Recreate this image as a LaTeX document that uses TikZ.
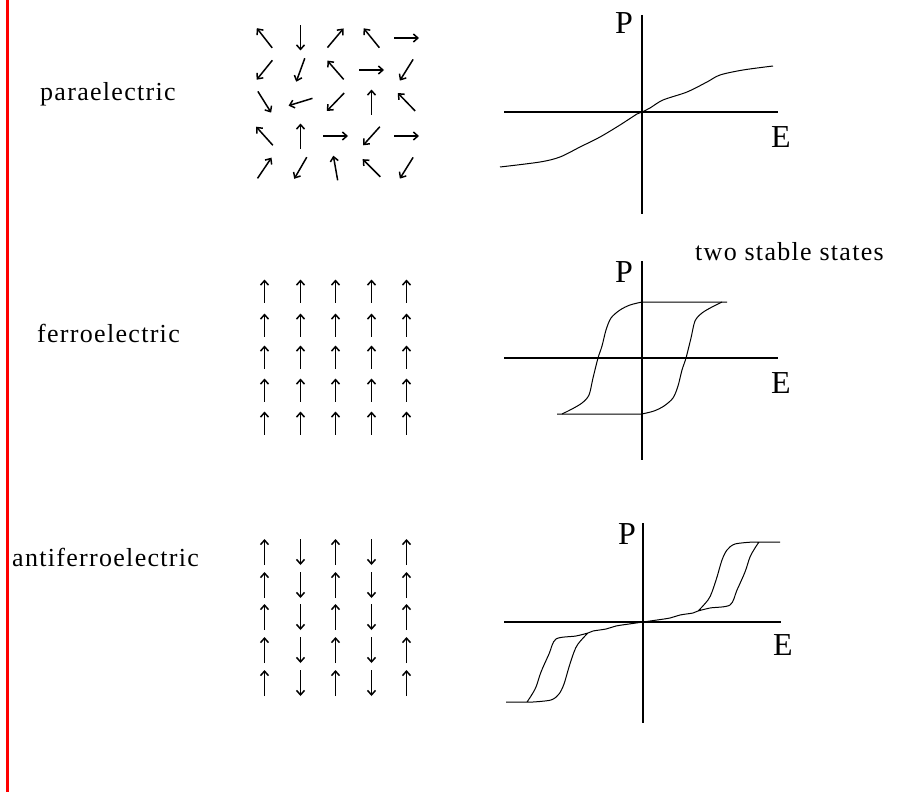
\documentclass[tikz,border=0pt]{standalone}
\usepackage{fontspec}
\usetikzlibrary{arrows.meta}
\setmainfont{Liberation Serif}
\newfontfamily\wordfont[LetterSpace=5]{Liberation Serif}
\begin{document}
\begin{tikzpicture}[x=1pt,y=-1pt,
  word/.style={font=\wordfont\fontsize{26}{26}\selectfont,anchor=base west,inner sep=0pt},
  axlabel/.style={font=\fontsize{32}{32}\selectfont,inner sep=0pt},
  dipole/.style={-{Straight Barb[length=4.5pt,width=8pt]},line width=1.5pt},
  axis/.style={line width=1.2pt},
  curve/.style={line width=1pt}]
\useasboundingbox (0,0) rectangle (905,792);
\fill[red] (6,0) rectangle (9,792);

\node[word] (para) at (40,100) {paraelectric};
\node[word] (ferro) at (37,342) {ferroelectric};
\node[word] (anti) at (12,566) {antiferroelectric};
\node[word] (stable) at (695,260) {two stable states};

\foreach \y/\row in {38/{232,90,310,231,0},70/{129,110,229,0,122},102/{58,163,134,270,226},136/{228,270,0,132,0},168/{304,120,260,225,122}}
  \foreach \a [count=\c] in \row {
    \pgfmathsetmacro\colx{229.5+int(35.5*\c)}
    \draw[dipole] ([shift={(\a+180:12.5)}]\colx,\y) -- ++(\a:25);
  }
\foreach \y in {291,325,357,390,423}
  \foreach \colx in {264.5,300.5,335.5,371.5,406.5}
    \draw[dipole] (\colx,\y+11.5) -- ++(0,-23);
\foreach \y in {552,585,617,650,683}
  \foreach \colx/\s in {264.5/-1,300.5/1,335.5/-1,371.5/1,406.5/-1}
    \draw[dipole] (\colx,\y-13*\s) -- ++(0,26*\s);

\begin{scope}[shift={(642,112)}]
\draw[axis] (-138,0) -- (136,0) (0,-97) -- (0,102);
\node[axlabel] (p1) at (-18,-89) {P};
\node[axlabel] (e1) at (139,25) {E};
\draw[curve] plot[smooth] coordinates {(-142,55) (-102,50) (-82,45) (-62,35) (-42,25) (-22,13) (-5,2) (0,0) (8,-4) (21,-12) (45,-20) (65,-30) (78,-37) (101,-42) (131,-46)};
\end{scope}

\begin{scope}[shift={(642,358)}]
\draw[axis] (-138,0) -- (136,0) (0,-97) -- (0,102);
\node[axlabel] (p2) at (-18,-86) {P};
\node[axlabel] (e2) at (139,25) {E};
\foreach \r in {0,180}
  \draw[curve,rotate=\r] plot[smooth] coordinates {(0,-56) (-12,-53) (-22,-48) (-31,-40) (-36,-28) (-40,-12) (-44,0) (-49,20) (-53,37) (-60,45) (-70,51) (-80,56)}
    (0,-56) -- (85,-56);
\end{scope}

\begin{scope}[shift={(643,622)}]
\draw[axis] (-139,0) -- (138,0) (0,-99) -- (0,101);
\node[axlabel] (p3) at (-16,-88) {P};
\node[axlabel] (e3) at (140,23) {E};
\foreach \r in {0,180}
  \draw[curve,rotate=\r] plot[smooth] coordinates {(0,0) (14,-2) (27,-4) (37,-7) (50,-9) (55,-11) (65,-22) (69,-30) (74,-45) (79,-62) (84,-72) (92,-78) (110,-80)} -- (137,-80)
    plot[smooth] coordinates {(55,-11) (67,-14) (87,-17) (94,-32) (102,-50) (107,-65) (112,-74) (116,-80)};
\end{scope}
\end{tikzpicture}
\end{document}
